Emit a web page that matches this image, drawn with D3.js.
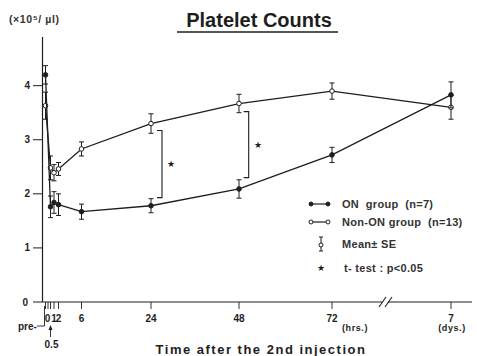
<!DOCTYPE html>
<html><head><meta charset="utf-8">
<script src="https://cdn.jsdelivr.net/npm/d3@7"></script>
<style>
html,body{margin:0;padding:0;background:#fff;}
svg{display:block;font-family:"Liberation Sans",Arial,sans-serif;}
</style></head>
<body><svg id="c" width="477" height="356"></svg>
<script>
// ---- data ----
const timeKeys   = [-1, 0.5, 1, 2, 6, 24, 48, 72, 168];           // hours (pre = -1, 7 days = 168)
const onMean     = [4.20, 1.76, 1.84, 1.80, 1.67, 1.78, 2.09, 2.72, 3.83];
const onSE       = [0.17, 0.20, 0.20, 0.20, 0.14, 0.13, 0.17, 0.14, 0.24];
const nonOnMean  = [3.63, 2.48, 2.39, 2.46, 2.83, 3.30, 3.67, 3.90, 3.60];
const nonOnSE    = [0.25, 0.22, 0.15, 0.12, 0.13, 0.18, 0.17, 0.15, 0.22];
const tickKeys   = [-1, 0, 0.5, 1, 2, 6, 24, 48, 72, 168];
const tickLabels = ["", "0", "", "1", "2", "6", "24", "48", "72", "7"];
const yTicks     = [0, 1, 2, 3, 4];
const sigHours   = [27, 50.5];
const sigLow     = [1.93, 2.30];
const sigHigh    = [3.17, 3.52];
const legendLabels = ["ON  group  (n=7)", "Non-ON group  (n=13)", "Mean\u00b1 SE", "t- test : p<0.05"];

const ink = "#1e1e1e";
const svg = d3.select("#c");

// piecewise time axis (hand-drawn spacing in the original)
const x = d3.scaleLinear()
  .domain([-1, 0, 0.5, 1, 2, 6, 24, 48, 72, 168])
  .range([45.5, 48, 50.5, 54, 58.5, 81.5, 151, 239, 332, 451]);
const y = d3.scaleLinear().domain([0, 4.9]).range([302, 37]);

// title
svg.append("text").attr("x", 259).attr("y", 27).attr("text-anchor", "middle")
  .attr("font-size", 20).attr("font-weight", "bold").attr("fill", ink).text("Platelet Counts");
svg.append("line").attr("x1", 177).attr("x2", 338).attr("y1", 32).attr("y2", 32)
  .attr("stroke", ink).attr("stroke-width", 1.4);

// unit
svg.append("text").attr("x", 9).attr("y", 23).attr("font-size", 10.5).attr("font-weight", "bold")
  .attr("letter-spacing", 0.6).attr("fill", "#333").text("(\u00d710\u2075/ \u00b5l)");

// y axis
svg.append("line").attr("x1", 42.5).attr("x2", 42.5).attr("y1", y(4.9)).attr("y2", y(0))
  .attr("stroke", ink).attr("stroke-width", 1.2);
const yt = svg.append("g");
yTicks.forEach(v => {
  yt.append("line").attr("x1", 33).attr("x2", 42.5).attr("y1", y(v)).attr("y2", y(v))
    .attr("stroke", ink).attr("stroke-width", 1);
  yt.append("text").attr("x", v === 0 ? 28 : 30).attr("y", y(v) + 3.5).attr("text-anchor", "end")
    .attr("font-size", 10).attr("font-weight", "bold").attr("fill", ink).text(v);
});

// x axis with break
const breakX = 385;
svg.append("line").attr("x1", 42.5).attr("x2", breakX - 3).attr("y1", y(0)).attr("y2", y(0))
  .attr("stroke", ink).attr("stroke-width", 1.2);
svg.append("line").attr("x1", breakX + 3).attr("x2", 472).attr("y1", y(0)).attr("y2", y(0))
  .attr("stroke", ink).attr("stroke-width", 1.2);
[-4, 2].forEach(d => {
  svg.append("line").attr("x1", breakX + d - 2).attr("x2", breakX + d + 5)
    .attr("y1", y(0) + 5).attr("y2", y(0) - 5).attr("stroke", ink).attr("stroke-width", 1.1);
});
tickKeys.forEach((k, i) => {
  svg.append("line").attr("x1", x(k)).attr("x2", x(k)).attr("y1", y(0)).attr("y2", y(0) + 7)
    .attr("stroke", ink).attr("stroke-width", 0.9);
  if (tickLabels[i]) {
    svg.append("text").attr("x", x(k) + (k === 0 ? -0.5 : 0)).attr("y", 322).attr("text-anchor", "middle")
      .attr("font-size", 10).attr("font-weight", "bold").attr("fill", ink).text(tickLabels[i]);
  }
});
// pre label with hook
svg.append("text").attr("x", 18).attr("y", 330).attr("font-size", 10).attr("font-weight", "bold")
  .attr("fill", ink).text("pre-");
svg.append("path").attr("d", `M37,326 L${x(-1) - 1},326 L${x(-1) - 1},${y(0) + 4}`)
  .attr("fill", "none").attr("stroke", ink).attr("stroke-width", 0.9);
// 0.5 with arrow
svg.append("line").attr("x1", x(0.5)).attr("x2", x(0.5)).attr("y1", 337).attr("y2", 326)
  .attr("stroke", ink).attr("stroke-width", 0.9);
svg.append("path").attr("d", `M${x(0.5) - 2},330 L${x(0.5)},325 L${x(0.5) + 2},330 Z`).attr("fill", ink);
svg.append("text").attr("x", x(0.5) + 1).attr("y", 348).attr("text-anchor", "middle")
  .attr("font-size", 10).attr("font-weight", "bold").attr("fill", ink).text("0.5");
svg.append("text").attr("x", 355).attr("y", 331).attr("text-anchor", "middle")
  .attr("font-size", 9).attr("font-weight", "bold").attr("letter-spacing", 0.6).attr("fill", ink).text("(hrs.)");
svg.append("text").attr("x", 452).attr("y", 331).attr("text-anchor", "middle")
  .attr("font-size", 9).attr("font-weight", "bold").attr("letter-spacing", 0.6).attr("fill", ink).text("(dys.)");
svg.append("text").attr("x", 261).attr("y", 354).attr("text-anchor", "middle")
  .attr("font-size", 13).attr("font-weight", "bold").attr("letter-spacing", 1.5).attr("fill", ink)
  .text("Time after the 2nd injection");

// series
const series = [
  {mean: nonOnMean, se: nonOnSE, filled: false},
  {mean: onMean, se: onSE, filled: true}
];
const line = d3.line().x(d => x(d.t)).y(d => y(d.m));
series.forEach(s => {
  const pts = timeKeys.map((t, i) => ({t, m: s.mean[i], e: s.se[i]}));
  svg.append("path").datum(pts).attr("d", line).attr("fill", "none")
    .attr("stroke", ink).attr("stroke-width", 1.3);
  const g = svg.append("g");
  pts.forEach(p => {
    const cx = x(p.t);
    g.append("line").attr("x1", cx).attr("x2", cx).attr("y1", y(p.m + p.e)).attr("y2", y(p.m - p.e))
      .attr("stroke", ink).attr("stroke-width", 1);
    [p.m + p.e, p.m - p.e].forEach(v => g.append("line").attr("x1", cx - 2.5).attr("x2", cx + 2.5)
      .attr("y1", y(v)).attr("y2", y(v)).attr("stroke", ink).attr("stroke-width", 1));
    g.append("circle").attr("cx", cx).attr("cy", y(p.m)).attr("r", 2.3)
      .attr("fill", s.filled ? ink : "#fff").attr("stroke", ink).attr("stroke-width", 1);
  });
});

// significance brackets
sigHours.forEach((h, i) => {
  const bx = x(h);
  svg.append("path").attr("d", `M${bx - 5},${y(sigHigh[i])} L${bx},${y(sigHigh[i])} L${bx},${y(sigLow[i])} L${bx - 5},${y(sigLow[i])}`)
    .attr("fill", "none").attr("stroke", ink).attr("stroke-width", 1.1);
  svg.append("text").attr("x", bx + 9).attr("y", (y(sigHigh[i]) + y(sigLow[i])) / 2 + 3)
    .attr("text-anchor", "middle").attr("font-size", 9).attr("fill", ink).text("\u2605");
});

// legend
const lg = svg.append("g");
const ly = [204, 222, 244, 268];
[true, false].forEach((f, i) => {
  lg.append("line").attr("x1", 311).attr("x2", 328).attr("y1", ly[i]).attr("y2", ly[i])
    .attr("stroke", ink).attr("stroke-width", 1.2);
  [311, 328].forEach(cx => lg.append("circle").attr("cx", cx).attr("cy", ly[i]).attr("r", 2)
    .attr("fill", f ? ink : "#fff").attr("stroke", ink).attr("stroke-width", 1));
});
lg.append("line").attr("x1", 321).attr("x2", 321).attr("y1", ly[2] - 7).attr("y2", ly[2] + 7)
  .attr("stroke", ink).attr("stroke-width", 1);
[ly[2] - 7, ly[2] + 7].forEach(v => lg.append("line").attr("x1", 319).attr("x2", 323)
  .attr("y1", v).attr("y2", v).attr("stroke", ink).attr("stroke-width", 1));
lg.append("circle").attr("cx", 321).attr("cy", ly[2] + 1).attr("r", 2).attr("fill", "#fff")
  .attr("stroke", ink).attr("stroke-width", 1);
lg.append("text").attr("x", 321).attr("y", ly[3] + 3).attr("text-anchor", "middle")
  .attr("font-size", 9).attr("fill", ink).text("\u2605");
legendLabels.forEach((t, i) => {
  lg.append("text").attr("x", i === 3 ? 344 : 342).attr("y", ly[i] + 4)
    .attr("font-size", 11).attr("font-weight", "bold").attr("letter-spacing", 0.3).attr("fill", "#333")
    .style("white-space", "pre").text(t);
});
</script></body></html>
